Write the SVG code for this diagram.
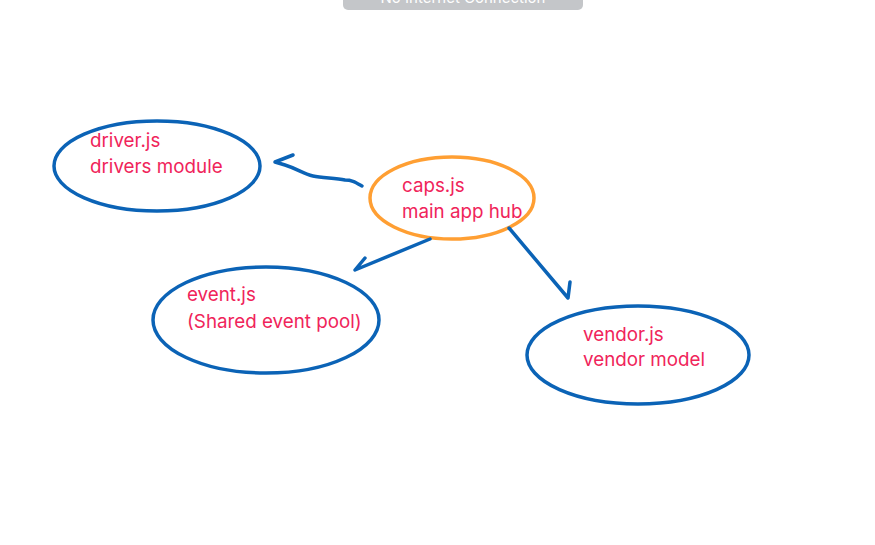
<svg xmlns="http://www.w3.org/2000/svg" width="875" height="545" viewBox="0 0 875 545">
<style>
.n{fill:none;stroke:#0b63b6;stroke-width:3.5}
.c{fill:none;stroke:#0b63b6;stroke-width:3.5;stroke-linecap:round;stroke-linejoin:round}
.t{font-family:"Inter","Liberation Sans",sans-serif;font-size:18.8px;fill:#f0245a}
</style>
<rect width="875" height="545" fill="#ffffff"/>
<g id="banner">
<rect x="343" y="-20" width="240" height="30" rx="5" fill="#c4c6c9"/>
<text x="463" y="3" text-anchor="middle" font-family="Inter,'Liberation Sans',sans-serif" font-size="15" fill="#ffffff">No Internet Connection</text>
</g>
<g id="driver">
<ellipse class="n" cx="157" cy="166" rx="103" ry="45"/>
<text class="t" x="90" y="147">driver.js</text>
<text class="t" x="90" y="173">drivers module</text>
</g>
<g id="caps">
<ellipse cx="452" cy="198" rx="82" ry="41" fill="none" stroke="#ff9f33" stroke-width="3.5"/>
<text class="t" x="402" y="192">caps.js</text>
<text class="t" x="402" y="218">main app hub</text>
</g>
<g id="event">
<ellipse class="n" cx="266" cy="320" rx="113" ry="53"/>
<text class="t" x="187" y="301">event.js</text>
<text class="t" x="187" y="328">(Shared event pool)</text>
</g>
<g id="vendor">
<ellipse class="n" cx="638" cy="355" rx="111" ry="49"/>
<text class="t" x="583" y="341">vendor.js</text>
<text class="t" x="583" y="366">vendor model</text>
</g>
<g id="connectors">
<path class="c" d="M362 186 C355 182 352 180 345 180 C335 178 322 178 313 176 C303 174 298 169 285 165 L275 162 L293 155"/>
<path class="c" d="M430 239 L355 270 L365 258"/>
<path class="c" d="M509 228 L568 298 L570 282"/>
</g>
</svg>
